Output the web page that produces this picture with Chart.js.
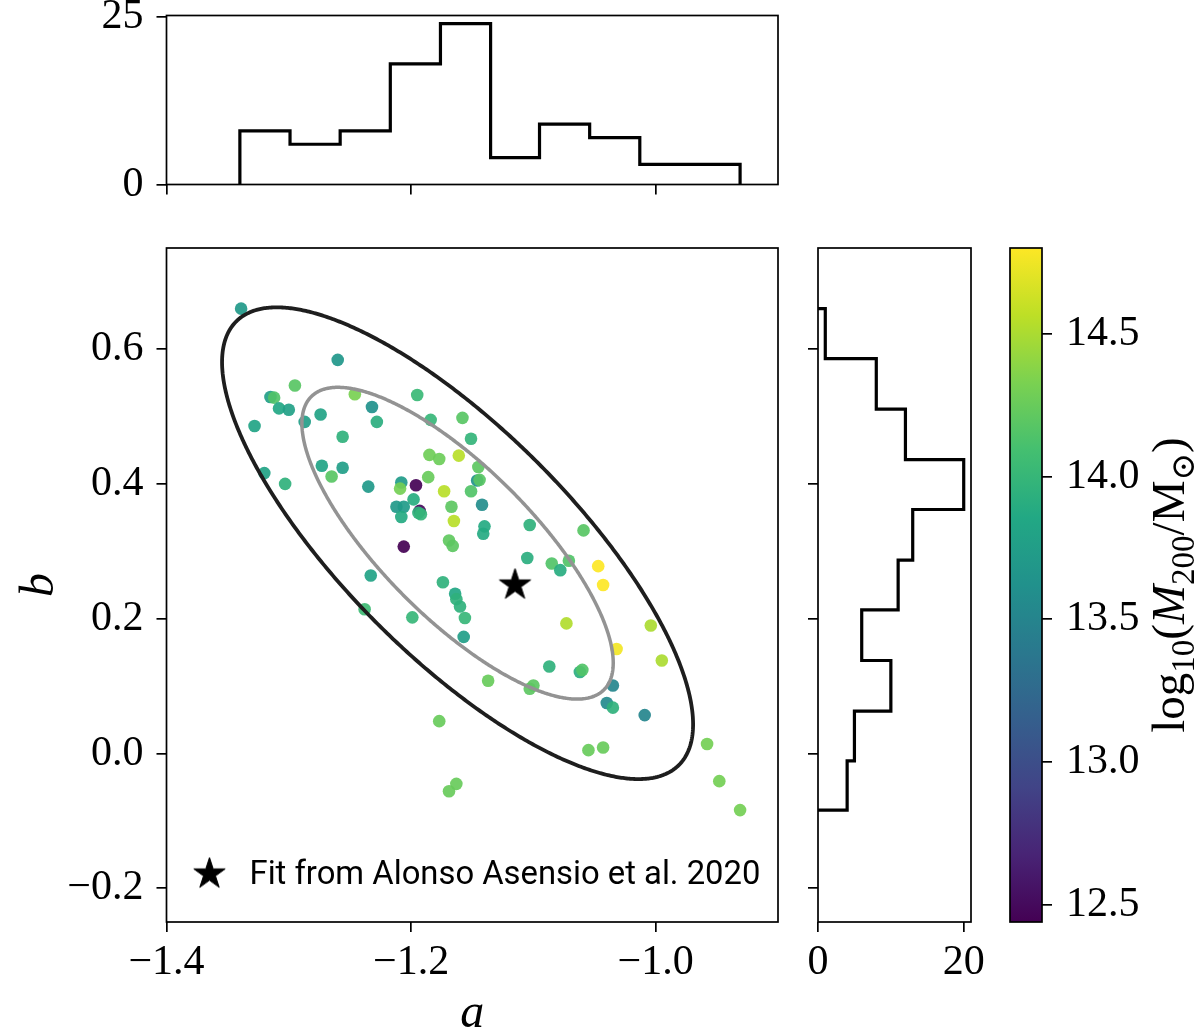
<!DOCTYPE html>
<html>
<head>
<meta charset="utf-8">
<title>a-b fit scatter</title>
<script src="https://cdn.jsdelivr.net/npm/chart.js@4.4.1/dist/chart.umd.min.js"></script>
<style>
  html, body { margin: 0; padding: 0; background: #ffffff; }
  #wrap { position: relative; width: 1200px; height: 1032px; }
  #wrap canvas { position: absolute; left: 0; top: 0; }
</style>
</head>
<body>
<div id="wrap">
  <canvas id="cTop" width="1200" height="1032"></canvas>
  <canvas id="cMain" width="1200" height="1032"></canvas>
  <canvas id="cRight" width="1200" height="1032"></canvas>
  <canvas id="cBar" width="1200" height="1032"></canvas>
</div>
<script>
// ===================== DATA =====================
const aValues = [
  -1.339, -1.260, -1.295, -1.315, -1.312, -1.308, -1.300, -1.328, -1.287, -1.274,
  -1.246, -1.232, -1.228, -1.256, -1.195, -1.184, -1.158, -1.151, -1.185, -1.177,
  -1.161, -1.273, -1.256, -1.265, -1.320, -1.303, -1.235, -1.208, -1.196, -1.209,
  -1.173, -1.186, -1.145, -1.146, -1.144, -1.151, -1.198, -1.212, -1.206, -1.193,
  -1.194, -1.192, -1.208, -1.167, -1.165, -1.142, -1.140, -1.141, -1.169, -1.166,
  -1.206, -1.103, -1.059, -1.105, -1.085, -1.078, -1.071, -1.047, -1.174, -1.233,
  -1.238, -1.199, -1.164, -1.163, -1.160, -1.156, -1.157, -1.043, -1.073, -1.032,
  -1.004, -0.995, -1.087, -1.062, -1.060, -1.137, -1.100, -1.103, -1.035, -1.040,
  -1.035, -1.009, -1.177, -1.055, -1.043, -0.958, -0.948, -0.931, -1.163, -1.169
];
const bValues = [
  0.660, 0.584, 0.546, 0.529, 0.528, 0.512, 0.510, 0.486, 0.492, 0.503,
  0.533, 0.514, 0.492, 0.470, 0.532, 0.495, 0.498, 0.467, 0.443, 0.437,
  0.442, 0.427, 0.424, 0.411, 0.416, 0.400, 0.396, 0.402, 0.398, 0.393,
  0.389, 0.410, 0.425, 0.405, 0.406, 0.389, 0.377, 0.366, 0.366, 0.360,
  0.357, 0.355, 0.351, 0.366, 0.345, 0.369, 0.337, 0.326, 0.316, 0.308,
  0.307, 0.339, 0.331, 0.290, 0.282, 0.272, 0.286, 0.278, 0.254, 0.264,
  0.214, 0.202, 0.237, 0.229, 0.218, 0.201, 0.173, 0.250, 0.193, 0.155,
  0.190, 0.138, 0.129, 0.121, 0.124, 0.108, 0.101, 0.096, 0.101, 0.075,
  0.068, 0.057, 0.048, 0.005, 0.009, 0.014, -0.041, -0.084, -0.045, -0.056
];
const massValues = [
  13.70, 13.68, 14.18, 13.75, 14.15, 13.85, 13.78, 13.82, 13.75, 13.80,
  14.32, 13.62, 13.92, 13.95, 14.02, 14.00, 14.18, 13.98, 14.28, 14.27,
  14.55, 13.82, 13.75, 14.18, 13.80, 13.95, 13.70, 13.72, 12.45, 14.30,
  14.55, 14.25, 14.20, 13.62, 14.18, 14.15, 13.90, 13.70, 13.72, 12.50,
  13.95, 13.98, 13.88, 14.20, 14.55, 13.58, 13.88, 13.88, 14.22, 14.20,
  12.44, 13.95, 14.18, 13.92, 14.15, 13.90, 14.15, 14.80, 13.95, 13.80,
  14.05, 14.00, 13.85, 13.95, 13.95, 14.00, 13.75, 14.80, 14.52, 14.76,
  14.50, 14.50, 13.95, 13.92, 14.15, 14.25, 14.20, 14.20, 13.52, 13.55,
  13.95, 13.52, 14.25, 14.25, 14.25, 14.30, 14.30, 14.30, 14.25, 14.25
];

const fitA = -1.115;
const fitB = 0.250;
const fitLabel = 'Fit from Alonso Asensio et al. 2020';

const ellipseCentre = [-1.162, 0.312];
const ellipseCov = [[0.0162, -0.0226], [-0.0226, 0.0535]];
const ellipseScales = [1.513, 1.0];          // outer (black), inner (grey)

const histAEdges  = [-1.340, -1.299, -1.258, -1.217, -1.176, -1.135, -1.095, -1.054, -1.013, -0.972, -0.931];
const histACounts = [8, 6, 8, 18, 24, 4, 9, 7, 3, 3];
const histBEdges  = [-0.084, -0.011, 0.063, 0.138, 0.213, 0.287, 0.362, 0.436, 0.511, 0.586, 0.660];
const histBCounts = [4, 5, 10, 6, 11, 13, 20, 12, 8, 1];

const aTicks = [-1.4, -1.2, -1.0];
const bTicks = [-0.2, 0.0, 0.2, 0.4, 0.6];
const topCountTicks = [0, 25];
const rightCountTicks = [0, 20];
const massTicks = [12.5, 13.0, 13.5, 14.0, 14.5];
const massRange = [12.44, 14.80];

const aLimits = [-1.4, -0.9];
const bLimits = [-0.25, 0.75];
const topCountLimits = [0, 25.2];
const rightCountLimits = [0, 21];

const viridisStops = ['#440154', '#482475', '#414487', '#355f8d', '#2a788e',
                      '#21918c', '#22a884', '#44bf70', '#7ad151', '#bddf26', '#fde725'];

// ===================== helpers =====================
const SERIF = "'Liberation Serif', 'DejaVu Serif', serif";
const SANS = "Roboto, 'Liberation Sans', sans-serif";
const TICK_FONT = { family: SERIF, size: 42, lineHeight: 1.2 };
const SPINE_W = 1.7;

Chart.defaults.animation = false;
Chart.defaults.events = [];
Chart.defaults.color = '#000';
Chart.defaults.font.family = SERIF;

function hexToRgb(h) {
  return [parseInt(h.slice(1, 3), 16), parseInt(h.slice(3, 5), 16), parseInt(h.slice(5, 7), 16)];
}
function viridis(v, alpha) {
  let t = (v - massRange[0]) / (massRange[1] - massRange[0]);
  t = Math.min(1, Math.max(0, t));
  const n = viridisStops.length - 1;
  const i = Math.min(n - 1, Math.floor(t * n));
  const f = t * n - i;
  const c0 = hexToRgb(viridisStops[i]), c1 = hexToRgb(viridisStops[i + 1]);
  const c = c0.map((x, k) => Math.round(x + (c1[k] - x) * f));
  return `rgba(${c[0]},${c[1]},${c[2]},${alpha})`;
}
const fmt1 = v => (Math.abs(v) < 1e-9 ? '0.0' : v.toFixed(1).replace('-', '\u2212'));
const fixedTicks = values => scale => { scale.ticks = values.map(v => ({ value: v })); };

function axis(o) {
  const vertical = o.position === 'left' || o.position === 'right';
  return {
    type: 'linear',
    position: o.position,
    min: o.min,
    max: o.max,
    afterBuildTicks: fixedTicks(o.ticks),
    afterFit: s => {
      if (vertical) s.width = o.size; else s.height = o.size;
      s.paddingTop = 0; s.paddingBottom = 0; s.paddingLeft = 0; s.paddingRight = 0;
    },
    grid: {
      drawOnChartArea: false, drawTicks: true, tickLength: 10,
      tickWidth: SPINE_W, tickColor: '#000', color: '#000', lineWidth: SPINE_W
    },
    border: { display: false },
    ticks: {
      callback: o.fmt || (() => ''),
      font: TICK_FONT, color: '#000', padding: o.pad === undefined ? 8 : o.pad,
      maxRotation: 0, minRotation: 0, autoSkip: false
    },
    title: o.title || { display: false }
  };
}

const framePlugin = {
  id: 'frame',
  afterDatasetsDraw(chart) {
    const { ctx, chartArea: a } = chart;
    ctx.save();
    ctx.strokeStyle = '#000';
    ctx.lineWidth = SPINE_W;
    ctx.strokeRect(a.left, a.top, a.right - a.left, a.bottom - a.top);
    ctx.restore();
  }
};

function makeStar(R) {
  const size = Math.ceil(2 * R + 4);
  const c = document.createElement('canvas');
  c.width = size; c.height = size;
  const g = c.getContext('2d');
  const cx = size / 2, cy = size / 2, r = R * 0.381966;
  g.beginPath();
  for (let k = 0; k < 10; k++) {
    const rad = k % 2 === 0 ? R : r;
    const ang = -Math.PI / 2 + k * Math.PI / 5;
    const x = cx + rad * Math.cos(ang), y = cy + rad * Math.sin(ang);
    if (k === 0) g.moveTo(x, y); else g.lineTo(x, y);
  }
  g.closePath();
  g.fillStyle = '#000';
  g.fill();
  g.lineJoin = 'miter';
  g.lineWidth = 1;
  g.strokeStyle = '#000';
  g.stroke();
  return c;
}
const starImg = makeStar(16.5);

function ellipsePoints(scale) {
  const saa = ellipseCov[0][0], sab = ellipseCov[0][1], sbb = ellipseCov[1][1];
  const l11 = Math.sqrt(saa), l21 = sab / l11, l22 = Math.sqrt(sbb - l21 * l21);
  const pts = [];
  const N = 360;
  for (let i = 0; i <= N + 2; i++) {
    const t = 2 * Math.PI * i / N + 0.7;
    const u = Math.cos(t), v = Math.sin(t);
    pts.push({ x: ellipseCentre[0] + scale * l11 * u, y: ellipseCentre[1] + scale * (l21 * u + l22 * v) });
  }
  return pts;
}

// ===================== top histogram (a) =====================
const topPts = [{ x: histAEdges[0], y: 0 }];
histACounts.forEach((c, i) => topPts.push({ x: histAEdges[i], y: c }));
topPts.push({ x: histAEdges[histAEdges.length - 1], y: 0 });

new Chart(document.getElementById('cTop'), {
  type: 'scatter',
  data: { datasets: [{
    data: topPts, showLine: true, stepped: 'before', borderColor: '#000',
    borderWidth: 3.2, pointRadius: 0, fill: false, borderJoinStyle: 'miter', borderCapStyle: 'butt'
  }] },
  options: {
    responsive: false, devicePixelRatio: 1,
    layout: { padding: { left: 0, top: 15.5, right: 422, bottom: 807.5 } },
    plugins: { legend: { display: false }, tooltip: { enabled: false } },
    scales: {
      x: axis({ position: 'bottom', min: aLimits[0], max: aLimits[1], ticks: aTicks, size: 40 }),
      y: axis({ position: 'left', min: topCountLimits[0], max: topCountLimits[1], ticks: topCountTicks,
                size: 166.5, pad: 13, fmt: v => String(v) })
    }
  },
  plugins: [framePlugin]
});

// ===================== main scatter =====================
const legendPlugin = {
  id: 'fitLegend',
  afterDraw(chart) {
    const ctx = chart.ctx;
    const a = chart.chartArea;
    ctx.save();
    ctx.drawImage(starImg, a.left + 43 - starImg.width / 2, 874 - starImg.height / 2);
    ctx.font = `100px ${SANS}`;
    const w100 = ctx.measureText(fitLabel).width;
    const size = 100 * 511 / w100;
    ctx.font = `${size.toFixed(2)}px ${SANS}`;
    ctx.fillStyle = '#000';
    ctx.textBaseline = 'middle';
    ctx.textAlign = 'left';
    ctx.fillText(fitLabel, a.left + 83, 876);
    ctx.restore();
  }
};

new Chart(document.getElementById('cMain'), {
  type: 'scatter',
  data: { datasets: [
    { label: fitLabel, data: [{ x: fitA, y: fitB }], pointStyle: starImg, pointRadius: 10, order: 0 },
    { data: ellipsePoints(ellipseScales[0]), showLine: true, borderColor: '#1e1e1e', borderWidth: 3.8,
      pointRadius: 0, fill: false, tension: 0.02, order: 1, borderJoinStyle: 'round', borderCapStyle: 'round' },
    { data: ellipsePoints(ellipseScales[1]), showLine: true, borderColor: '#939393', borderWidth: 3.5,
      pointRadius: 0, fill: false, tension: 0.02, order: 2, borderJoinStyle: 'round', borderCapStyle: 'round' },
    { data: aValues.map((a, i) => ({ x: a, y: bValues[i] })),
      pointRadius: 6.3, pointBorderWidth: 0,
      pointBackgroundColor: massValues.map(m => viridis(m, 0.92)),
      pointBorderColor: 'rgba(0,0,0,0)', order: 3 }
  ] },
  options: {
    responsive: false, devicePixelRatio: 1,
    layout: { padding: { left: 0, top: 248, right: 422, bottom: 0 } },
    plugins: { legend: { display: false }, tooltip: { enabled: false } },
    scales: {
      x: axis({ position: 'bottom', min: aLimits[0], max: aLimits[1], ticks: aTicks, size: 110, pad: 6, fmt: fmt1,
                title: { display: true, text: 'a', color: '#000',
                         font: { family: SERIF, size: 48, style: 'italic', lineHeight: 1 },
                         padding: { top: 0, bottom: -6 } } }),
      y: axis({ position: 'left', min: bLimits[0], max: bLimits[1], ticks: bTicks, size: 166.5, pad: 13, fmt: fmt1,
                title: { display: true, text: 'b', color: '#000',
                         font: { family: SERIF, size: 48, style: 'italic', lineHeight: 1 },
                         padding: { top: 16, bottom: 0 } } })
    }
  },
  plugins: [framePlugin, legendPlugin]
});

// ===================== right histogram (b) =====================
const rightPts = [{ x: 0, y: histBEdges[0] }];
histBCounts.forEach((c, i) => rightPts.push({ x: c, y: histBEdges[i] }));
rightPts.push({ x: 0, y: histBEdges[histBEdges.length - 1] });

new Chart(document.getElementById('cRight'), {
  type: 'scatter',
  data: { datasets: [{
    data: rightPts, showLine: true, stepped: 'after', borderColor: '#000',
    borderWidth: 3.2, pointRadius: 0, fill: false, borderJoinStyle: 'miter', borderCapStyle: 'butt'
  }] },
  options: {
    responsive: false, devicePixelRatio: 1,
    layout: { padding: { left: 798, top: 248, right: 229, bottom: 0 } },
    plugins: { legend: { display: false }, tooltip: { enabled: false } },
    scales: {
      x: axis({ position: 'bottom', min: rightCountLimits[0], max: rightCountLimits[1], ticks: rightCountTicks,
                size: 110, pad: 6, fmt: v => String(v) }),
      y: axis({ position: 'left', min: bLimits[0], max: bLimits[1], ticks: bTicks, size: 20 })
    }
  },
  plugins: [framePlugin]
});

// ===================== colour bar =====================
const cbarLabelPlugin = {
  id: 'cbarLabel',
  afterDraw(chart) {
    const ctx = chart.ctx;
    const a = chart.chartArea;
    const big = 47, small = 33, drop = 10;
    const parts = [
      { t: 'log', s: big, sub: false, it: false },
      { t: '10', s: small, sub: true, it: false },
      { t: '(', s: big, sub: false, it: false },
      { t: 'M', s: big, sub: false, it: true },
      { t: '200', s: small, sub: true, it: false },
      { t: '/M', s: big, sub: false, it: false },
      { t: '\u2299', s: small, sub: true, it: false },
      { t: ')', s: big, sub: false, it: false }
    ];
    ctx.save();
    ctx.fillStyle = '#000';
    ctx.textBaseline = 'alphabetic';
    ctx.textAlign = 'left';
    let total = 0;
    parts.forEach(p => {
      ctx.font = `${p.it ? 'italic ' : ''}${p.s}px ${SERIF}`;
      p.w = ctx.measureText(p.t).width;
      total += p.w;
    });
    ctx.translate(1184, (a.top + a.bottom) / 2);
    ctx.rotate(-Math.PI / 2);
    let x = -total / 2;
    parts.forEach(p => {
      ctx.font = `${p.it ? 'italic ' : ''}${p.s}px ${SERIF}`;
      ctx.fillText(p.t, x, p.sub ? drop : 0);
      x += p.w;
    });
    ctx.restore();
  }
};

new Chart(document.getElementById('cBar'), {
  type: 'bar',
  data: { labels: [''], datasets: [{
    data: [massRange],
    barPercentage: 1, categoryPercentage: 1, borderWidth: 0,
    backgroundColor: (c) => {
      const ch = c.chart;
      const ys = ch.scales.y;
      if (!ys || !ch.chartArea) return '#21918c';
      const g = ch.ctx.createLinearGradient(0, ys.getPixelForValue(massRange[0]), 0, ys.getPixelForValue(massRange[1]));
      viridisStops.forEach((col, i) => g.addColorStop(i / (viridisStops.length - 1), col));
      return g;
    }
  }] },
  options: {
    responsive: false, devicePixelRatio: 1,
    layout: { padding: { left: 1010, top: 248, right: 8, bottom: 110 } },
    plugins: { legend: { display: false }, tooltip: { enabled: false } },
    scales: {
      x: { display: false },
      y: axis({ position: 'right', min: massRange[0], max: massRange[1], ticks: massTicks, size: 150, pad: 14,
                fmt: v => v.toFixed(1) })
    }
  },
  plugins: [framePlugin, cbarLabelPlugin]
});
</script>
</body>
</html>
